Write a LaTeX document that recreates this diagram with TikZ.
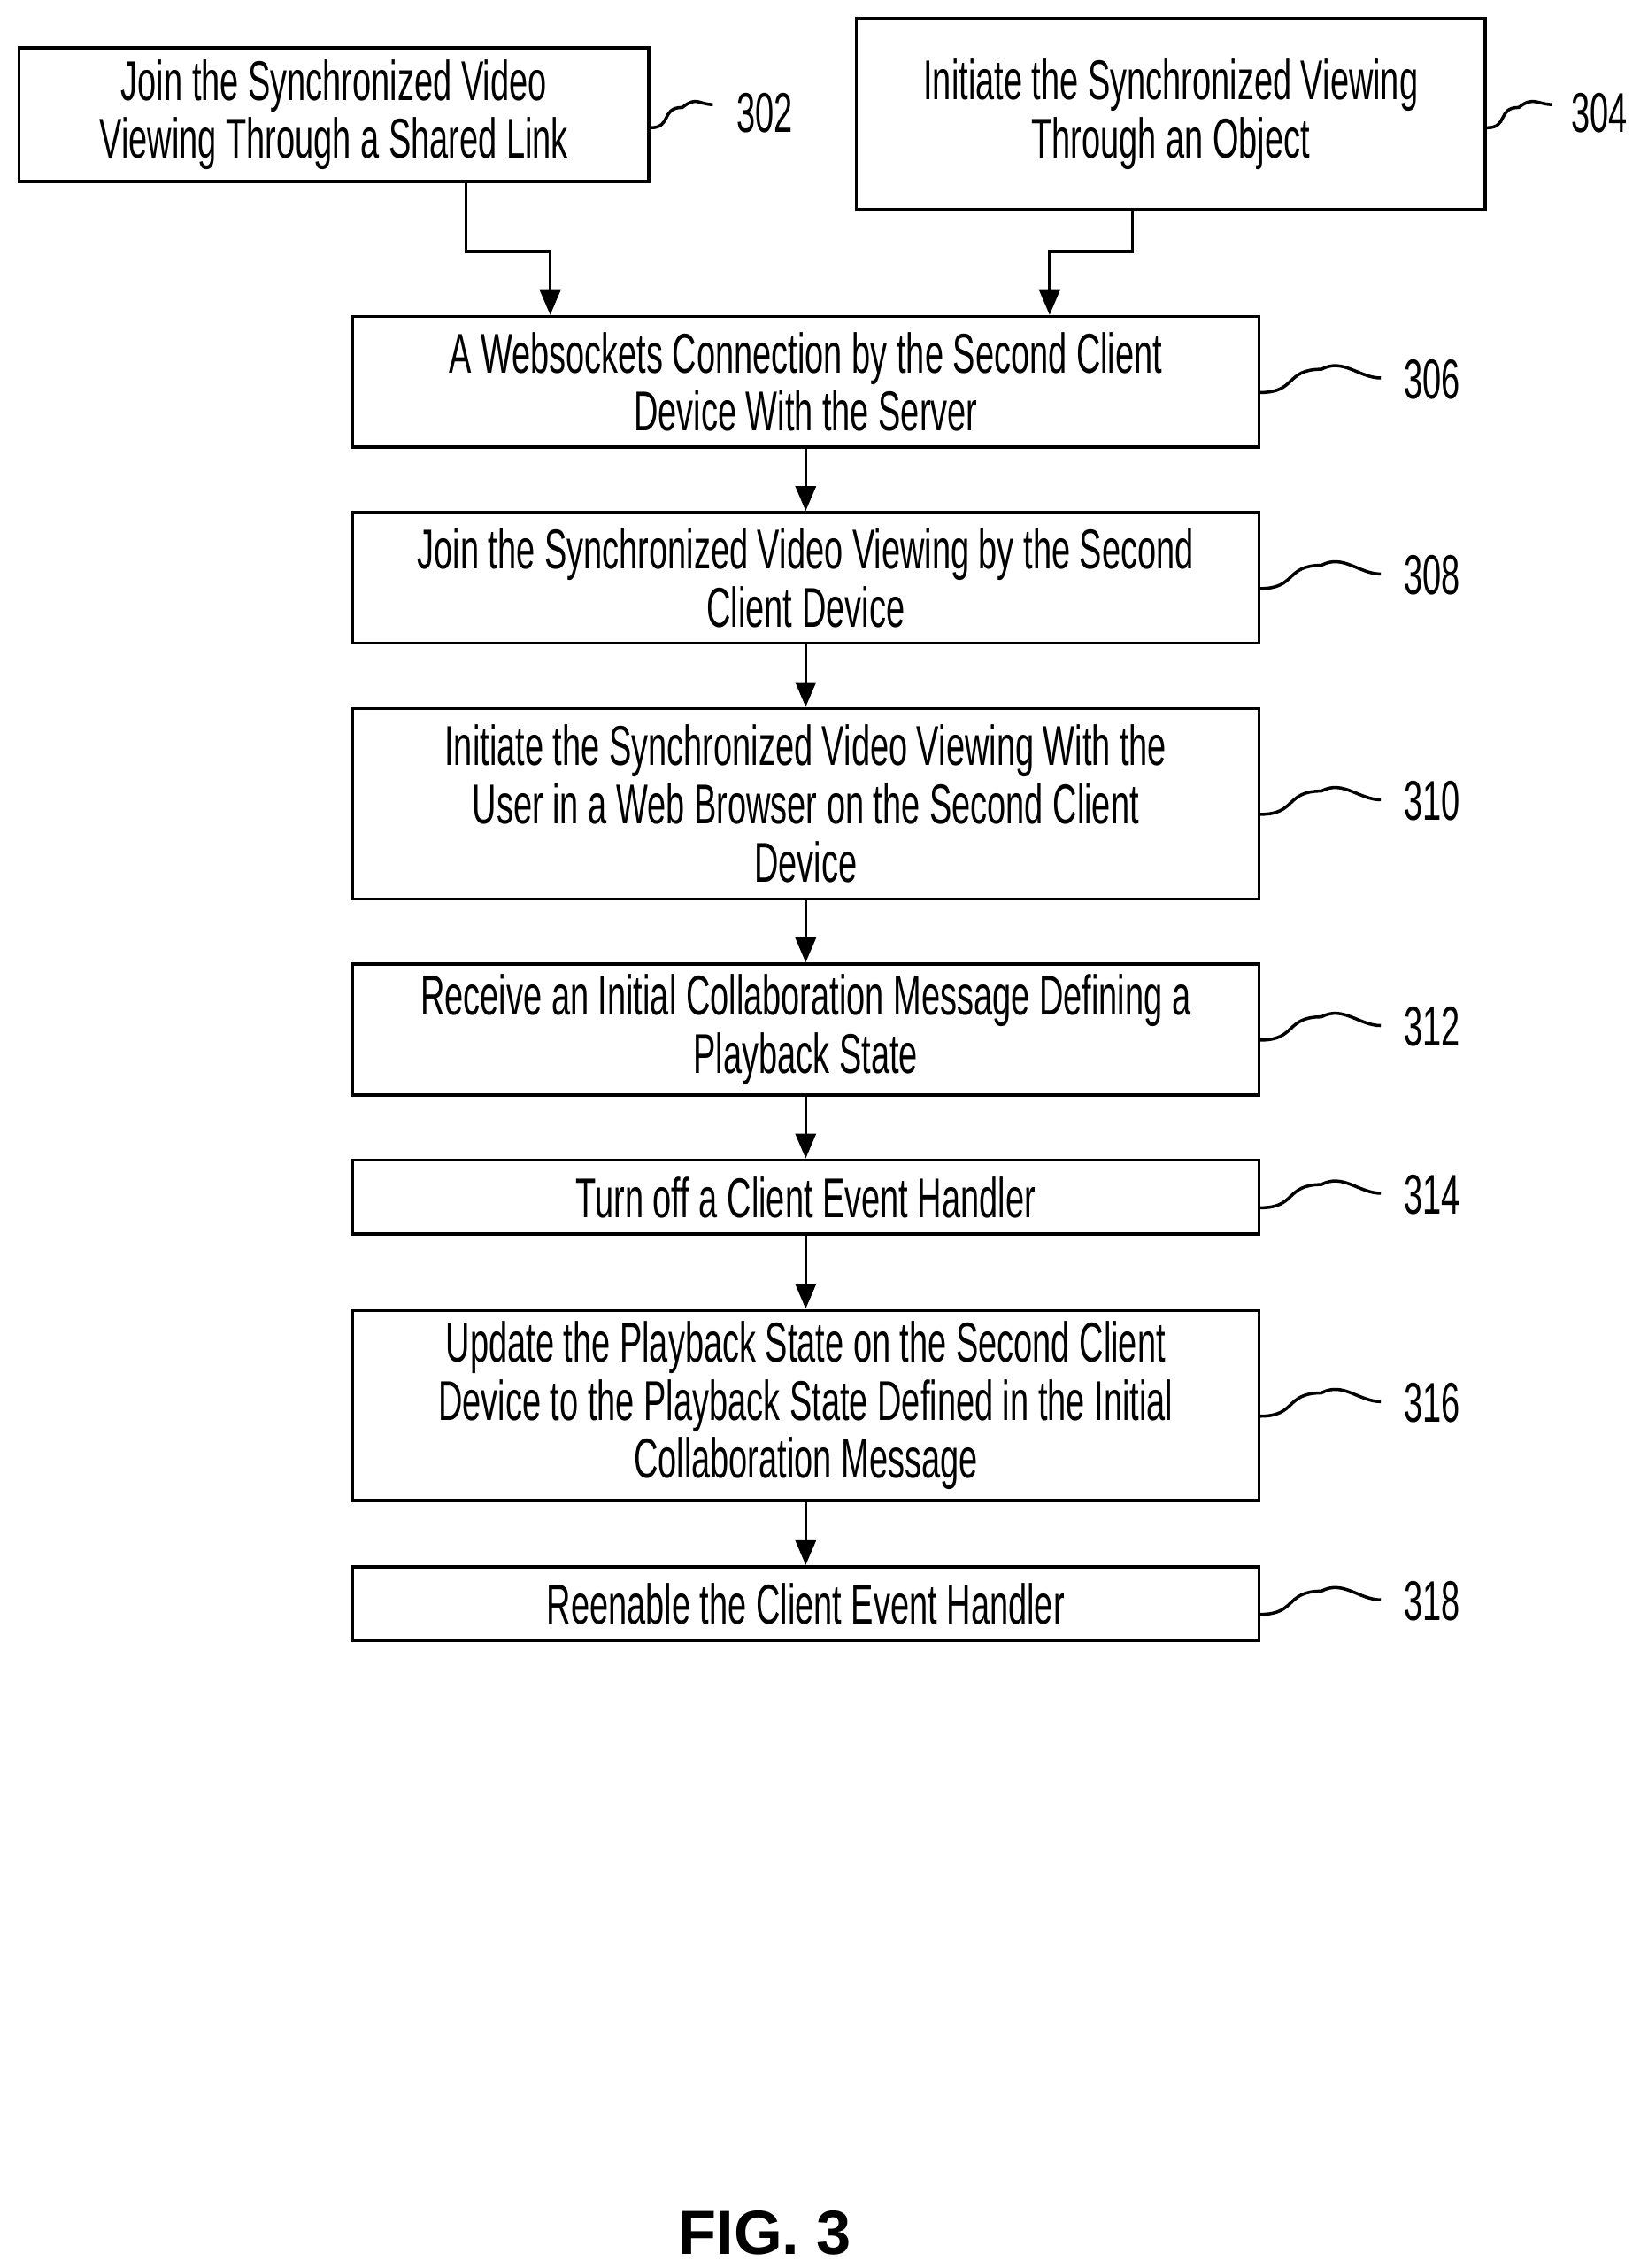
\documentclass[tikz,border=0pt]{standalone}
\usepackage{fontspec}
\setmainfont[FakeStretch=0.6]{Liberation Sans}
\newfontfamily\figfont{Liberation Sans}
\usetikzlibrary{arrows.meta}

\tikzset{
  stepbox/.style={draw, line width=1pt, align=center, inner sep=2pt,
    font=\fontsize{18}{18.7}\selectfont},
  wide/.style={stepbox, minimum width=10.23cm},
  flow/.style={line width=1pt, -{Triangle[length=8pt,width=6.5pt]}},
  squig/.style={line width=1pt},
  ref/.style={font=\fontsize{18}{20}\selectfont, anchor=west}
}

\begin{document}
\begin{tikzpicture}[x=0.01639cm,y=-0.01639cm]
    \useasboundingbox (0,0) rectangle (1135,1562);

    % top boxes
    \node[stepbox, minimum width=7.11cm, minimum height=1.51cm] (join) at (230,79)
        {Join the Synchronized Video\\Viewing Through a Shared Link};
    \node[stepbox, minimum width=7.10cm, minimum height=2.15cm] (init) at (806.5,78.5)
        {Initiate the Synchronized Viewing\\Through an Object};

    % main column
    \node[wide, minimum height=1.475cm] (ws) at (555,263)
        {A Websockets Connection by the Second Client\\Device With the Server};
    \node[wide, minimum height=1.475cm] (joinsv) at (555,398)
        {Join the Synchronized Video Viewing by the Second\\Client Device};
    \node[wide, minimum height=2.147cm] (initsv) at (555,553.5)
        {Initiate the Synchronized Video Viewing With the\\User in a Web Browser on the Second Client\\Device};
    \node[wide, minimum height=1.475cm] (recv) at (555,709)
        {Receive an Initial Collaboration Message Defining a\\Playback State};
    \node[wide, minimum height=0.836cm] (off) at (555,824.5)
        {Turn off a Client Event Handler};
    \node[wide, minimum height=2.147cm] (upd) at (555,968)
        {Update the Playback State on the Second Client\\Device to the Playback State Defined in the Initial\\Collaboration Message};
    \node[wide, minimum height=0.836cm] (reen) at (555,1104.5)
        {Reenable the Client Event Handler};

    % connectors
    \coordinate (jbend) at (321,173);
    \coordinate (ibend) at (780,173);
    \draw[flow] (join.south -| jbend) -- (jbend) -- (379,173) -- (ws.north -| 379,0);
    \draw[flow] (init.south -| ibend) -- (ibend) -- (723,173) -- (ws.north -| 723,0);
    \draw[flow] (ws) -- (joinsv);
    \draw[flow] (joinsv) -- (initsv);
    \draw[flow] (initsv) -- (recv);
    \draw[flow] (recv) -- (off);
    \draw[flow] (off) -- (upd);
    \draw[flow] (upd) -- (reen);

    % reference numerals
    \draw[squig] (join.east |- 0,88) .. controls +(15,0) and +(-15,0) .. +(22,-14)
        .. controls +(10,-8) and +(-10,0) .. +(43,-16);
    \node[ref] (r302) at (500,78) {302};
    \draw[squig] (init.east |- 0,88) .. controls +(15,0) and +(-15,0) .. +(22,-14)
        .. controls +(10,-8) and +(-10,0) .. +(45,-16);
    \node[ref] (r304) at (1075,78) {304};
    \foreach \nd/\num in {ws/306, joinsv/308, initsv/310, recv/312, off/314, upd/316, reen/318}{
        \draw[squig] ([yshift=-0.12cm]\nd.east) .. controls +(25,0) and +(-25,0) .. +(42,-16)
            .. controls +(15,-8) and +(-15,0) .. +(83,-10);
        \node[ref] (r\num) at ([xshift=1.5cm,yshift=0.03cm]\nd.east) {\num};
    }

    \node (fig) at (527,1538) {\figfont\bfseries\fontsize{20}{22}\selectfont FIG. 3};
\end{tikzpicture}
\end{document}
